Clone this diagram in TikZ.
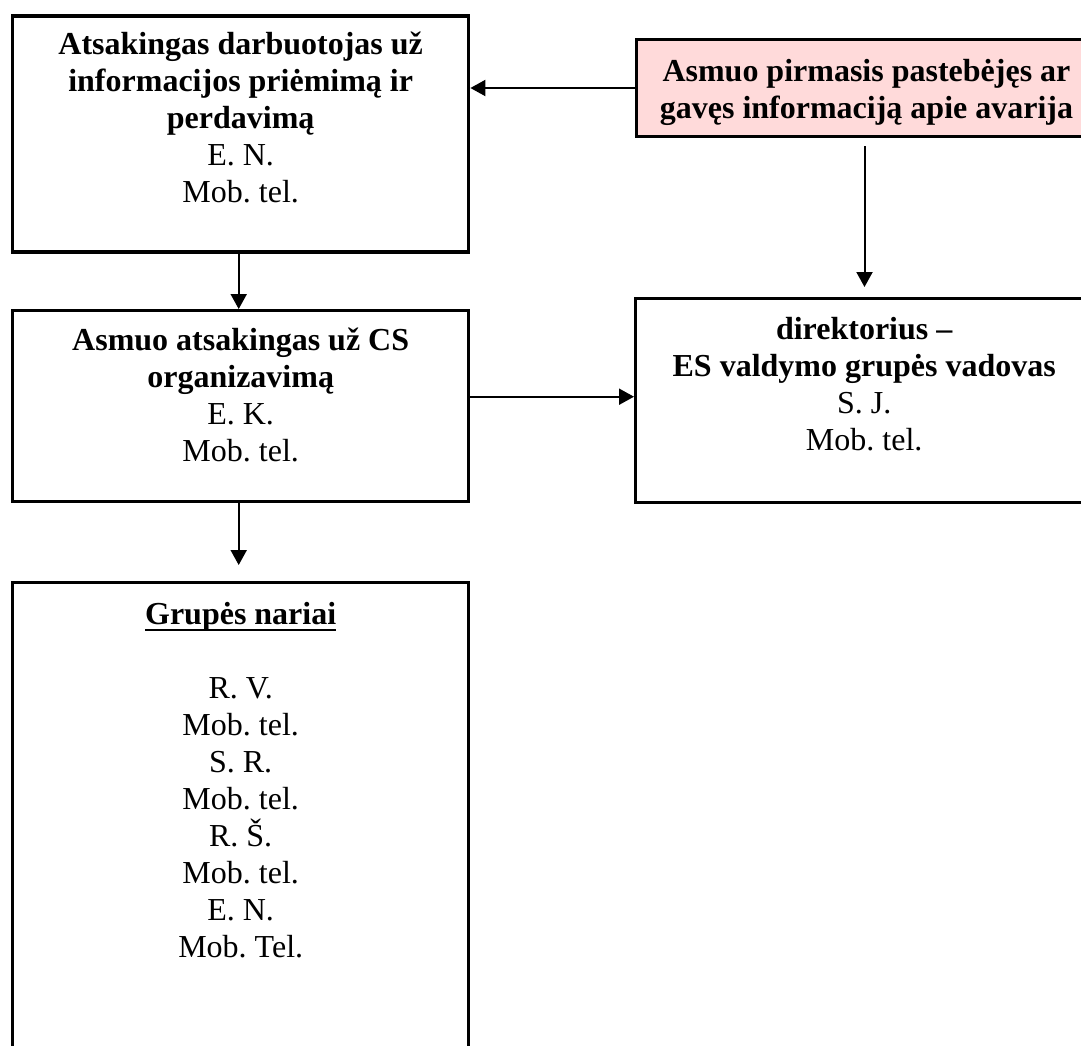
\documentclass[tikz,border=0pt]{standalone}
\usepackage{fontspec}
\setmainfont{Liberation Serif}
\frenchspacing
\usetikzlibrary{arrows.meta}
\definecolor{pinkfill}{RGB}{255,218,218}
\newcommand\myul[1]{\setbox0\hbox{#1}\rlap{\rule[-6pt]{\wd0}{1.8pt}}\box0}
\newcommand\boxtext[4]{\parbox[c][#2][t]{#1}{\fontsize{32}{37}\selectfont\frenchspacing\centering\rule{0pt}{#3}#4}}
\tikzset{
  boxnode/.style={draw=black, line width=3.4pt, inner sep=0pt, rectangle, anchor=north west},
  conn/.style={line width=2pt, -{Triangle[length=15pt,width=16pt]}}
}
\begin{document}
\begin{tikzpicture}[x=1pt,y=1pt]
\useasboundingbox (0,0) rectangle (1081,-1045);
\clip (0,0) rectangle (1081,-1045);
\fill[white] (0,0) rectangle (1081,-1045);

\node[boxnode] (b1) at (11,-14.3) {\boxtext{456pt}{236pt}{38pt}{\textbf{Atsakingas darbuotojas už}\\\textbf{informacijos priėmimą ir}\\\textbf{perdavimą}\\E. N.\\Mob. tel.}};

\node[boxnode, fill=pinkfill, line width=3pt] (p) at (635,-38) {\boxtext{460pt}{97pt}{42pt}{\textbf{Asmuo pirmasis pastebėjęs ar}\\\textbf{gavęs informaciją apie avarija}}};

\node[boxnode] (m) at (11,-309) {\boxtext{456pt}{191pt}{40pt}{\textbf{Asmuo atsakingas už CS}\\\textbf{organizavimą}\\E. K.\\Mob. tel.}};

\node[boxnode] (mr) at (634,-297) {\boxtext{457pt}{204pt}{41pt}{\textbf{direktorius –}\\\textbf{ES valdymo grupės vadovas}\\S. J.\\Mob. tel.}};

\node[boxnode] (g) at (11,-581) {\boxtext{456pt}{480pt}{42pt}{\myul{\textbf{Grupės nariai}}\\[37pt]R. V.\\Mob. tel.\\S. R.\\Mob. tel.\\R. Š.\\Mob. tel.\\E. N.\\Mob. Tel.}};

\draw[conn] (p.west) -- (p.west -| b1.east);
\draw[conn] ([xshift=-2pt]b1.south) -- ([xshift=-2pt]m.north);
\draw[conn, shorten <=8pt, shorten >=10pt] ([xshift=-2pt]p.south) -- ([xshift=-2pt]p.south |- mr.north);
\draw[conn] ([yshift=9.5pt]m.east) -- ([yshift=9.5pt]m.east -| mr.west);
\draw[conn, shorten >=16pt] ([xshift=-2pt]m.south) -- ([xshift=-2pt]g.north);
\end{tikzpicture}
\end{document}
